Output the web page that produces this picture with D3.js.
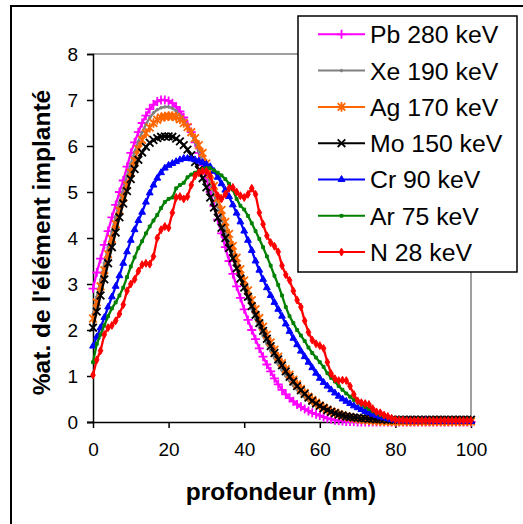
<!DOCTYPE html>
<html><head><meta charset="utf-8">
<script src="https://cdn.jsdelivr.net/npm/d3@7"></script>
<style>body{margin:0;background:#fff} svg{display:block} text{font-family:"Liberation Sans",Arial,sans-serif}</style>
</head><body><svg id="c" width="523" height="524"></svg>
<script>
const depth = [0,1,2,3,4,5,6,7,8,9,10,11,12,13,14,15,16,17,18,19,20,21,22,23,24,25,26,27,28,29,30,31,32,33,34,35,36,37,38,39,40,41,42,43,44,45,46,47,48,49,50,51,52,53,54,55,56,57,58,59,60,61,62,63,64,65,66,67,68,69,70,71,72,73,74,75,76,77,78,79,80,81,82,83,84,85,86,87,88,89,90,91,92,93,94,95,96,97,98,99,100];

const pb = [2.9,3.25,3.55,3.85,4.15,4.45,4.72,5.0,5.25,5.55,5.85,6.08,6.3,6.5,6.66,6.8,6.9,6.97,7.0,7.0,
 6.98,6.93,6.85,6.75,6.62,6.47,6.3,6.08,5.85,5.58,
 5.3,5.0,4.7,4.4,4.1,3.8,3.5,3.22,2.95,2.7,
 2.45,2.22,2.0,1.8,1.6,1.42,1.25,1.1,0.95,0.82,
 0.7,0.6,0.52,0.45,0.38,0.33,0.28,0.24,0.2,0.17,
 0.14,0.11,0.08,0.06,0.04,0.03,0.02,0.01,0.01,0.01,
 0,0,0,0,0,0,0,0,0,0,0,0,0,0,0,0,0,0,0,0,0,0,0,0,0,0,0,0,0,0,0];

const xe = [2.35,2.72,3.09,3.45,3.8,4.14,4.47,4.78,5.07,5.35,5.62,5.87,6.1,6.3,6.47,6.61,6.72,6.79,6.83,6.85,
 6.85,6.82,6.76,6.67,6.56,6.42,6.26,6.08,5.88,5.66,
 5.43,5.19,4.94,4.68,4.42,4.16,3.9,3.64,3.39,3.14,
 2.9,2.67,2.45,2.24,2.05,1.87,1.7,1.54,1.39,1.25,
 1.12,1.0,0.89,0.79,0.7,0.62,0.54,0.47,0.41,0.36,
 0.31,0.27,0.23,0.2,0.17,0.14,0.12,0.1,0.08,0.07,
 0.06,0.05,0.04,0.03,0.03,0.02,0.02,0.01,0.01,0.01,
 0.01,0.01,0.01,0.01,0.01,0.01,0.01,0.01,0.01,0.01,0.01,0.01,0.01,0.01,0.01,0.01,0.01,0.01,0.01,0.01,0.01];

const ag = [2.25,2.6,2.95,3.3,3.65,3.98,4.3,4.6,4.88,5.15,5.42,5.68,5.93,6.13,6.28,6.4,6.5,6.57,6.62,6.64,
 6.65,6.65,6.63,6.58,6.5,6.41,6.3,6.17,6.02,5.85,
 5.62,5.38,5.13,4.87,4.61,4.35,4.09,3.83,3.57,3.32,
 3.08,2.86,2.65,2.45,2.26,2.07,1.9,1.73,1.57,1.42,
 1.28,1.15,1.03,0.92,0.82,0.72,0.63,0.55,0.48,0.42,
 0.36,0.31,0.27,0.23,0.2,0.17,0.14,0.12,0.1,0.08,
 0.07,0.06,0.05,0.04,0.03,0.03,0.02,0.02,0.01,0.01,
 0.01,0.01,0.01,0.01,0.01,0.01,0.01,0.01,0.01,0.01,0.01,0.01,0.01,0.01,0.01,0.01,0.01,0.01,0.01,0.01,0.01];

const mo = [2.05,2.4,2.75,3.1,3.45,3.8,4.12,4.45,4.75,5.02,5.28,5.5,5.7,5.86,5.98,6.07,6.13,6.17,6.2,6.21,
 6.21,6.2,6.16,6.1,6.02,5.92,5.8,5.65,5.48,5.3,
 5.1,4.88,4.66,4.44,4.22,4.0,3.78,3.56,3.34,3.12,
 2.92,2.72,2.52,2.33,2.15,1.98,1.81,1.65,1.5,1.36,
 1.23,1.1,0.98,0.88,0.78,0.69,0.61,0.53,0.46,0.4,
 0.35,0.3,0.26,0.22,0.19,0.16,0.14,0.12,0.11,0.1,
 0.09,0.08,0.08,0.07,0.07,0.06,0.06,0.06,0.05,0.05,
 0.05,0.05,0.05,0.05,0.05,0.05,0.05,0.05,0.05,0.05,0.05,0.05,0.05,0.05,0.05,0.05,0.05,0.05,0.05,0.05,0.05];

const cr = [1.65,1.85,2.05,2.27,2.5,2.72,2.95,3.18,3.45,3.7,3.95,4.18,4.38,4.56,4.78,4.98,5.15,5.3,5.42,5.52,
 5.58,5.62,5.66,5.7,5.73,5.73,5.72,5.7,5.67,5.64,
 5.6,5.55,5.45,5.32,5.18,5.04,4.9,4.72,4.54,4.35,
 4.15,3.95,3.73,3.5,3.3,3.1,2.92,2.75,2.6,2.45,
 2.3,2.13,1.97,1.82,1.68,1.54,1.42,1.3,1.18,1.06,
 0.95,0.86,0.78,0.7,0.63,0.56,0.5,0.45,0.4,0.35,
 0.31,0.27,0.23,0.2,0.17,0.14,0.11,0.09,0.07,0.05,
 0.04,0.03,0.03,0.02,0.02,0.02,0.02,0.03,0.04,0.02,
 0.01,0.01,0.01,0.01,0.01,0.01,0.01,0.01,0.01,0.01,0.01];

const ar = [1.3,1.7,1.9,2.1,2.3,2.47,2.6,2.75,2.92,3.15,3.38,3.58,3.78,3.93,4.1,4.25,4.38,4.5,4.65,4.78,
 4.85,4.88,5.08,5.15,5.2,5.32,5.38,5.42,5.46,5.5,
 5.52,5.52,5.47,5.42,5.36,5.28,5.18,5.05,4.85,4.7,
 4.62,4.48,4.32,4.15,3.98,3.8,3.6,3.4,3.18,2.98,
 2.75,2.5,2.3,2.15,2.0,1.88,1.76,1.62,1.5,1.4,
 1.3,1.2,1.06,0.96,0.88,0.78,0.7,0.62,0.55,0.48,
 0.43,0.38,0.33,0.28,0.23,0.19,0.15,0.12,0.1,0.08,
 0.07,0.06,0.06,0.05,0.05,0.05,0.06,0.05,0.05,0.05,
 0.05,0.05,0.05,0.05,0.05,0.05,0.05,0.05,0.05,0.05,0.05];

const n = [1.02,1.35,1.55,1.9,2.05,2.1,2.2,2.35,2.55,2.85,3.0,3.1,3.28,3.42,3.45,3.43,3.6,4.0,4.18,4.25,
 4.22,4.55,4.88,4.9,4.85,4.9,5.15,5.35,5.42,5.45,
 5.45,5.35,5.1,4.92,4.85,4.95,5.08,5.1,5.0,4.92,
 4.88,4.95,5.08,4.95,4.55,4.3,4.05,3.9,3.82,3.7,
 3.4,3.2,3.08,2.85,2.65,2.5,2.2,1.95,1.78,1.7,
 1.66,1.6,1.3,1.05,0.94,0.9,0.91,0.9,0.78,0.6,
 0.46,0.42,0.4,0.38,0.29,0.22,0.2,0.15,0.12,0.08,
 0.05,0.04,0.04,0.03,0.03,0.03,0.03,0.03,0.03,0.03,
 0.03,0.03,0.03,0.03,0.03,0.03,0.03,0.03,0.03,0.03,0.03];

const seriesNames = ["Pb 280 keV","Xe 190 keV","Ag 170 keV","Mo 150 keV","Cr 90 keV","Ar 75 keV","N 28 keV"];
const seriesValues = [pb, xe, ag, mo, cr, ar, n];
const seriesColors = ["#FF00FF","#808080","#FF6600","#000000","#0000FF","#008000","#FF0000"];
const seriesMarkers = ["plus","dot","star","cross","triangle","square","circle"];
const xTicks = [0,20,40,60,80,100];
const yTicks = [0,1,2,3,4,5,6,7,8];
const xTitle = "profondeur (nm)";
const yTitle = "%at. de l'élément implanté";

const svg = d3.select("#c");
svg.append("rect").attr("width",523).attr("height",524).attr("fill","#fff");
svg.append("rect").attr("x",11).attr("y",6).attr("width",540).attr("height",540)
  .attr("fill","none").attr("stroke","#000").attr("stroke-width",2);

const x = d3.scaleLinear().domain([0,100]).range([93,471]);
const y = d3.scaleLinear().domain([0,8]).range([422,54]);

svg.append("path").attr("d",`M${x(0)},${y(8)}H${x(100)}V${y(0)}`)
  .attr("fill","none").attr("stroke","#808080").attr("stroke-width",1.5);

const yAxis = svg.append("g").attr("transform",`translate(${x(0)},0)`)
  .call(d3.axisLeft(y).tickValues(yTicks).tickSize(6).tickPadding(9).tickFormat(d3.format("d")));
const xAxis = svg.append("g").attr("transform",`translate(0,${y(0)})`)
  .call(d3.axisBottom(x).tickValues(xTicks).tickSize(6).tickPadding(15).tickFormat(d3.format("d")));
[yAxis,xAxis].forEach(g=>{
  g.select(".domain").attr("stroke","#000").attr("stroke-width",1.5);
  g.selectAll(".tick line").attr("stroke","#000").attr("stroke-width",1.5);
  g.selectAll("text").attr("font-size",19).attr("fill","#000").attr("font-family","Liberation Sans, Arial, sans-serif");
});
xAxis.select(".domain").attr("d",`M${x(0)-6},0.5H${x(100)}`);

function markerPath(type){
  switch(type){
    case "plus": return "M-4.5,0H4.5M0,-4.5V4.5";
    case "cross": return "M-3.8,-3.8L3.8,3.8M-3.8,3.8L3.8,-3.8";
    case "star": return "M-3.8,-3.8L3.8,3.8M-3.8,3.8L3.8,-3.8M0,-4.8V4.8";
    case "triangle": return d3.symbol(d3.symbolTriangle, 20)();
    case "square": return d3.symbol(d3.symbolSquare, 8)();
    case "circle": return d3.symbol(d3.symbolDiamond, 18)();
    case "dot": return d3.symbol(d3.symbolCircle, 5)();
  }
}
function styleMarker(sel, type, color){
  if(["plus","cross","star"].includes(type)) sel.attr("fill","none").attr("stroke",color).attr("stroke-width",1.8);
  else sel.attr("fill",color).attr("stroke",color).attr("stroke-width",1);
}

const line = d3.line().x(d=>x(d[0])).y(d=>y(d[1]));
seriesValues.forEach((vals,i)=>{
  const pts = depth.map((d,j)=>[d, vals[j]]);
  const g = svg.append("g");
  g.append("path").attr("d",line(pts)).attr("fill","none").attr("stroke",seriesColors[i]).attr("stroke-width",2.3);
  const mp = markerPath(seriesMarkers[i]);
  g.selectAll("path.m").data(pts).enter().append("path").attr("class","m")
    .attr("d",mp).attr("transform",d=>`translate(${x(d[0])},${y(d[1])})`)
    .call(s=>styleMarker(s, seriesMarkers[i], seriesColors[i]));
});

const lg = svg.append("g");
lg.append("rect").attr("x",298).attr("y",16).attr("width",219).attr("height",256)
  .attr("fill","#fff").attr("stroke","#000").attr("stroke-width",1.5);
seriesNames.forEach((name,i)=>{
  const cy = 34.3 + i*36.3;
  lg.append("line").attr("x1",318).attr("x2",365).attr("y1",cy).attr("y2",cy)
    .attr("stroke",seriesColors[i]).attr("stroke-width",2);
  lg.append("path").attr("d",markerPath(seriesMarkers[i])).attr("transform",`translate(341.5,${cy})`)
    .call(s=>styleMarker(s, seriesMarkers[i], seriesColors[i]));
  lg.append("text").attr("x",370).attr("y",cy).attr("dy","0.36em").attr("font-size",24.8).attr("fill","#000").text(name);
});

svg.append("text").attr("x",281).attr("y",499.5).attr("text-anchor","middle")
  .attr("font-size",24.5).attr("font-weight","bold").attr("fill","#000").text(xTitle);
svg.append("text").attr("transform","translate(50,242.5) rotate(-90)").attr("text-anchor","middle")
  .attr("font-size",24.5).attr("font-weight","bold").attr("fill","#000").text(yTitle);
</script></body></html>
